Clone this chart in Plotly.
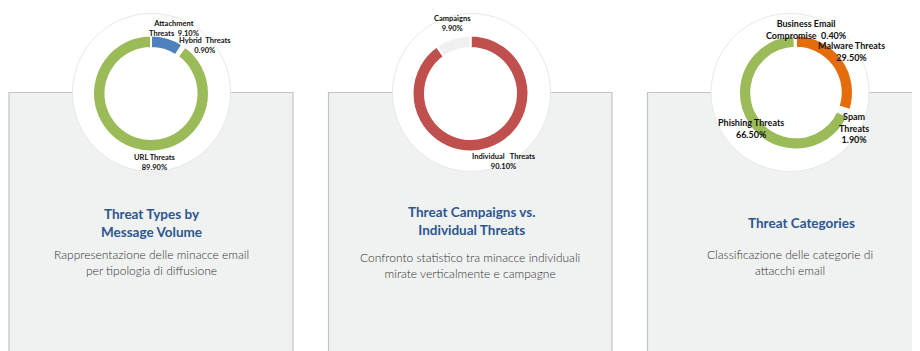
import plotly.graph_objects as go

# ---------------- data ----------------
p1_labels = ["Attachment Threats", "Hybrid Threats", "URL Threats"]
p1_values = [9.10, 0.90, 89.90]
p1_text = ["Attachment<br>Threats  {}", "Hybrid  Threats<br>{}", "URL Threats<br>{}"]

p2_labels = ["Individual Threats", "Campaigns"]
p2_values = [90.10, 9.90]
p2_text = ["Individual   Threats<br>{}", "Campaigns<br>{}"]

p3_labels = ["Malware Threats", "Spam Threats", "Phishing Threats", "Business Email Compromise"]
p3_values = [29.50, 1.90, 66.50, 0.40]
p3_text = ["Malware Threats<br>{}", "Spam<br>Threats<br>{}", "Phishing Threats<br>{}", "Business Email<br>Compromise  {}"]

titles = ["Threat Types by<br>Message Volume", "Threat Campaigns vs.<br>Individual Threats", "Threat Categories"]
descriptions = [
    "Rappresentazione delle minacce email<br>per tipologia di diffusione",
    "Confronto statistico tra minacce individuali<br>mirate verticalmente e campagne",
    "Classificazione delle categorie di<br>attacchi email",
]

# ---------------- styles / layout positions (window pixels) ----------------
WIN_W, WIN_H = 920, 351
OFF = 8  # default page body margin
W, H = WIN_W - OFF, WIN_H - OFF

p1_colors = ["#4F81BD", "#F6F6F6", "#9BBB59"]
p2_colors = ["#C0504D", "#F0F0F0"]
p3_colors = ["#E46C0A", "#F6F6F6", "#9BBB59", "#F6F6F6"]

panels = [(9, 293), (328.5, 612), (647.5, 940)]
panel_top = 92.5
circles = [(151.5, 92.5, 79), (471.5, 92.5, 79), (790, 92.5, 79)]
donuts = [(151, 93.5, 58), (470.5, 93.5, 58), (796, 92.5, 57)]

label_pos = [
    [(174, 28.5), (205, 46), (155, 162.5)],
    [(504, 161.5), (452, 23.5)],
    [(851, 51.5), (854, 127.5), (751, 128), (806, 29.5)],
]
label_size = [7.5, 7.5, 9]
title_pos = [(151, 223), (471, 221), (801, 223)]
desc_pos = [(151, 262), (470, 265), (790, 262.5)]


def px(x):
    return (x - OFF) / W


def py(y):
    return 1 - (y - OFF) / H


fig = go.Figure()

pies = [
    (p1_labels, p1_values, p1_colors, p1_text),
    (p2_labels, p2_values, p2_colors, p2_text),
    (p3_labels, p3_values, p3_colors, p3_text),
]

shapes = []
annotations = []

for i, (labels, values, colors, texts) in enumerate(pies):
    cx, cy, r = donuts[i]
    fig.add_trace(go.Pie(
        labels=labels,
        values=values,
        sort=False,
        direction="clockwise",
        rotation=0,
        hole=0.785,
        marker=dict(colors=colors, line=dict(color="white", width=2)),
        textinfo="none",
        hoverinfo="label+percent",
        domain=dict(x=[px(cx - r), px(cx + r)], y=[py(cy + r), py(cy - r)]),
        showlegend=False,
    ))
    # panel box
    x0, x1 = panels[i]
    shapes.append(dict(type="rect", xref="paper", yref="paper",
                       x0=px(x0), x1=px(x1), y0=py(WIN_H + 10), y1=py(panel_top),
                       fillcolor="#F0F1F1", line=dict(color="#C4C4C4", width=1.2),
                       layer="below"))
    # white circle behind donut
    ccx, ccy, cr = circles[i]
    shapes.append(dict(type="circle", xref="paper", yref="paper",
                       x0=px(ccx - cr), x1=px(ccx + cr), y0=py(ccy + cr), y1=py(ccy - cr),
                       fillcolor="white", line=dict(color="#E8E8E8", width=1),
                       layer="below"))
    # slice labels
    for j, t in enumerate(texts):
        lx, ly = label_pos[i][j]
        annotations.append(dict(
            x=px(lx), y=py(ly), xref="paper", yref="paper",
            text=t.format(f"{values[j]:.2f}%"), showarrow=False,
            xanchor="center", yanchor="middle",
            font=dict(family="Lato", size=label_size[i], color="#111111",
                      weight="bold"),
        ))
    # title
    tx, ty = title_pos[i]
    annotations.append(dict(
        x=px(tx), y=py(ty), xref="paper", yref="paper", text=titles[i],
        showarrow=False, xanchor="center", yanchor="middle",
        font=dict(family="Lato", size=13.5, color="#2B5690", weight="bold"),
    ))
    dx, dy = desc_pos[i]
    annotations.append(dict(
        x=px(dx), y=py(dy), xref="paper", yref="paper", text=descriptions[i],
        showarrow=False, xanchor="center", yanchor="middle",
        font=dict(family="Lato", size=12, color="#333333", weight=300),
    ))

fig.update_layout(
    width=W, height=H,
    margin=dict(l=0, r=0, t=0, b=0),
    paper_bgcolor="white",
    plot_bgcolor="white",
    shapes=shapes,
    annotations=annotations,
    showlegend=False,
)

fig.write_html("out.html")
